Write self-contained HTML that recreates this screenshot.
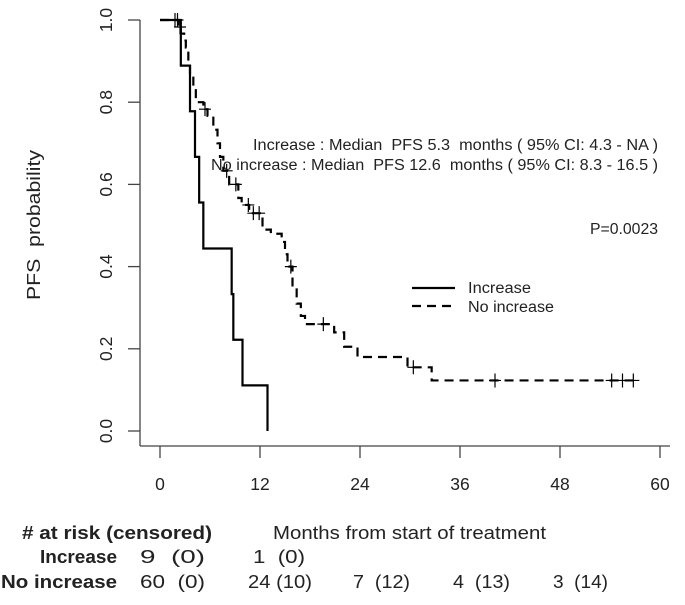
<!DOCTYPE html>
<html><head><meta charset="utf-8"><style>
body{margin:0;background:#fff;}
svg text{font-family:"Liberation Sans",Arial,sans-serif;fill:#222;white-space:pre;}
</style></head><body>
<svg id="c" width="685" height="600" xmlns="http://www.w3.org/2000/svg">
<g id="axes"></g><g id="marks"></g>
<text x="40" y="225" font-size="18" transform="rotate(-90 40 225)" text-anchor="middle" textLength="150" lengthAdjust="spacingAndGlyphs">PFS  probability</text>
<text x="253" y="150" font-size="15.5" textLength="405" lengthAdjust="spacingAndGlyphs">Increase : Median  PFS 5.3  months ( 95% CI: 4.3 - NA )</text>
<text x="211" y="170" font-size="15.5" textLength="447" lengthAdjust="spacingAndGlyphs">No increase : Median  PFS 12.6  months ( 95% CI: 8.3 - 16.5 )</text>
<text x="590" y="234" font-size="15.5" textLength="68" lengthAdjust="spacingAndGlyphs">P=0.0023</text>
<g>
<line x1="412" y1="288" x2="455" y2="288" stroke="#000" stroke-width="2.2"/>
<line x1="412" y1="306" x2="455" y2="306" stroke="#000" stroke-width="2.2" stroke-dasharray="9,6"/>
<text x="468" y="293" font-size="15.5" textLength="63" lengthAdjust="spacingAndGlyphs">Increase</text>
<text x="468" y="312" font-size="15.5" textLength="86" lengthAdjust="spacingAndGlyphs">No increase</text>
</g>
<g font-size="18">
<text x="22" y="539" font-weight="bold" textLength="190" lengthAdjust="spacingAndGlyphs"># at risk (censored)</text>
<text x="273" y="539" textLength="273" lengthAdjust="spacingAndGlyphs">Months from start of treatment</text>
<text x="40" y="563" font-weight="bold" textLength="77" lengthAdjust="spacingAndGlyphs">Increase</text>
<text x="1" y="588" font-weight="bold" textLength="116" lengthAdjust="spacingAndGlyphs">No increase</text>
<text x="140" y="563" textLength="65" lengthAdjust="spacingAndGlyphs">9  (0)</text>
<text x="253" y="563" textLength="52" lengthAdjust="spacingAndGlyphs">1  (0)</text>
<text x="140" y="588" textLength="65" lengthAdjust="spacingAndGlyphs">60  (0)</text>
<text x="248" y="588" textLength="64" lengthAdjust="spacingAndGlyphs">24 (10)</text>
<text x="353" y="588" textLength="57" lengthAdjust="spacingAndGlyphs">7  (12)</text>
<text x="453" y="588" textLength="57" lengthAdjust="spacingAndGlyphs">4  (13)</text>
<text x="553" y="588" textLength="55" lengthAdjust="spacingAndGlyphs">3  (14)</text>
</g>
</svg>
<script>
const xTicks=[0,12,24,36,48,60];
const yTicks=[0,0.2,0.4,0.6,0.8,1.0];
const incTimes=[2.5,3.6,4.2,4.7,5.2,8.6,8.8,9.9,12.9];
const incSurv=[0.889,0.778,0.667,0.556,0.444,0.333,0.222,0.111,0];
const incCens=[];
const noTimes=[2.2,2.5,2.9,3.1,3.4,3.6,4.0,4.3,5.2,5.7,6.4,6.9,7.2,7.6,8.3,9.4,9.8,10.7,12.3,13.3,14.6,15.0,15.3,15.9,16.4,16.9,17.4,20.9,22.1,23.7,29.7,32.6];
const noSurv=[0.983,0.967,0.95,0.933,0.9,0.867,0.833,0.8,0.783,0.767,0.733,0.7,0.667,0.633,0.6,0.567,0.55,0.53,0.49,0.48,0.46,0.43,0.4,0.35,0.31,0.28,0.26,0.24,0.205,0.18,0.155,0.123];
const noCens=[1.8,2.1,2.4,5.4,8.0,9.1,10.6,11.2,11.9,15.7,19.6,30.4,40.2,54.2,55.5,56.8];
const noEnd=57.5;
const X=m=>160+m*(500/60);
const Y=p=>431-p*411;
const NS="http://www.w3.org/2000/svg";
const ax=document.getElementById('axes'),mk=document.getElementById('marks');
function el(t,a,p){const e=document.createElementNS(NS,t);for(const k in a)e.setAttribute(k,a[k]);p.appendChild(e);return e;}
const ya=el('line',{x1:140,y1:Y(1),x2:140,y2:446,stroke:'#444','stroke-width':1.3},ax);


const xa=el('line',{x1:140,y1:446,x2:X(60)+10,y2:446,stroke:'#444','stroke-width':1.3},ax);


yTicks.forEach(v=>{el('line',{x1:128,y1:Y(v),x2:140,y2:Y(v),stroke:'#444','stroke-width':1.3},ax);
const t=el('text',{x:112,y:Y(v),'font-size':17.5,'text-anchor':'middle',transform:`rotate(-90 112 ${Y(v)})`},ax);t.textContent=v.toFixed(1);

});
xTicks.forEach(v=>{el('line',{x1:X(v),y1:446,x2:X(v),y2:458,stroke:'#444','stroke-width':1.3},ax);
const t=el('text',{x:X(v),y:490,'font-size':17.5,'text-anchor':'middle'},ax);t.textContent=v;

});
function survAt(ts,ss,m){let s=1;for(let i=0;i<ts.length;i++)if(ts[i]<=m)s=ss[i];return s;}
function curve(ts,ss,cens,end,dash,name){
let d=`M${X(0)},${Y(1)}`;
ts.forEach((t,i)=>{d+=`H${X(t)}V${Y(ss[i])}`;});
if(end)d+=`H${X(end)}`;
const p=el('path',{d:d,fill:'none',stroke:'#000','stroke-width':2.2},mk);
if(dash)p.setAttribute('stroke-dasharray','9,6');


cens.forEach(c=>{const y=Y(survAt(ts,ss,c)),x=X(c);
const g=el('path',{d:`M${x-6},${y}H${x+6}M${x},${y-7}V${y+7}`,stroke:'#000','stroke-width':1.2},mk);

});
}
curve(incTimes,incSurv,incCens,null,false,'increase-curve');
curve(noTimes,noSurv,noCens,noEnd,true,'no-increase-curve');
</script>
</body></html>
